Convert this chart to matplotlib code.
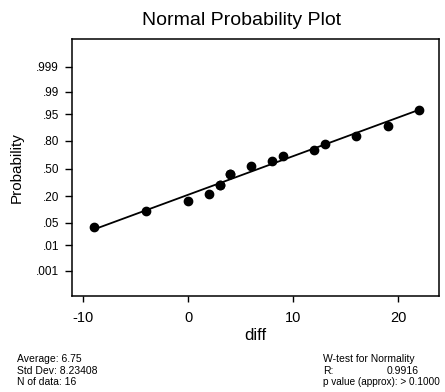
import numpy as np
import matplotlib
matplotlib.use("Agg")
import matplotlib.pyplot as plt
from statistics import NormalDist

plt.rcParams['font.family'] = ['Liberation Sans', 'DejaVu Sans']

# data
diff = [-9, -4, 0, 2, 3, 3, 4, 4, 6, 8, 9, 12, 13, 16, 19, 22]
prob_ticks = [0.001, 0.01, 0.05, 0.20, 0.50, 0.80, 0.95, 0.99, 0.999]
prob_labels = ['.001', '.01', '.05', '.20', '.50', '.80', '.95', '.99', '.999']
x_ticks = [-10, 0, 10, 20]
x_labels = ['-10', '0', '10', '20']
left_info = ['Average: 6.75', 'Std Dev: 8.23408', 'N of data: 16']
right_head = 'W-test for Normality'
r_label, r_value = 'R:', '0.9916'
p_text = 'p value (approx): > 0.1000'

nd = NormalDist()
x = np.array(diff, dtype=float)
n = len(x)
# average ranks for ties
order = np.argsort(x, kind='mergesort')
ranks = np.empty(n)
ranks[order] = np.arange(1, n + 1)
for v in np.unique(x):
    m = x == v
    ranks[m] = ranks[m].mean()
p = (ranks - 3 / 8) / (n + 1 / 4)
z = np.array([nd.inv_cdf(pi) for pi in p])

fig = plt.figure(figsize=(4.45, 3.92), dpi=100)
ax = fig.add_axes([71.5 / 445, 96 / 392, (439 - 71.5) / 445, (296 - 39) / 392])

# fitted line (x on z regression)
b, a = np.polyfit(z, x, 1)
xl = np.array([x.min(), x.max()])
ax.plot(xl, (xl - a) / b, color='black', lw=1.3, zorder=2)
ax.plot(x, z, 'o', color='black', ms=6, zorder=3)

ax.set_xlim(-11.12, 23.88)
ax.set_ylim(-3.86, 3.93)
ax.set_yticks([nd.inv_cdf(v) for v in prob_ticks])
ax.set_yticklabels(prob_labels, fontsize=8.5)
ax.set_xticks(x_ticks)
ax.set_xticklabels(x_labels, fontsize=10.5)
ax.tick_params(axis='y', length=5, width=1, pad=4)
ax.tick_params(axis='x', length=4, width=1, pad=7)
for s in ax.spines.values():
    s.set_linewidth(1.1)

fig.text(242 / 445, 1 - 25 / 392, 'Normal Probability Plot', fontsize=14,
         ha='center', va='baseline')
fig.text(17 / 445, 1 - 168 / 392, 'Probability', fontsize=11, rotation=90,
         ha='center', va='center')
fig.text(255 / 445, 1 - 336 / 392, 'diff', fontsize=12, ha='center', va='center')

rows_y = [359, 370.5, 382]
for t, yy in zip(left_info, rows_y):
    fig.text(17 / 445, 1 - yy / 392, t, fontsize=7.5, ha='left', va='center')
fig.text(323 / 445, 1 - rows_y[0] / 392, right_head, fontsize=7.5, ha='left', va='center')
fig.text(323 / 445, 1 - rows_y[1] / 392, r_label, fontsize=7.5, ha='left', va='center')
fig.text(387 / 445, 1 - rows_y[1] / 392, r_value, fontsize=7.5, ha='left', va='center')
fig.text(323 / 445, 1 - rows_y[2] / 392, p_text, fontsize=7.2, ha='left', va='center')

fig.savefig('out.png', dpi=100)
